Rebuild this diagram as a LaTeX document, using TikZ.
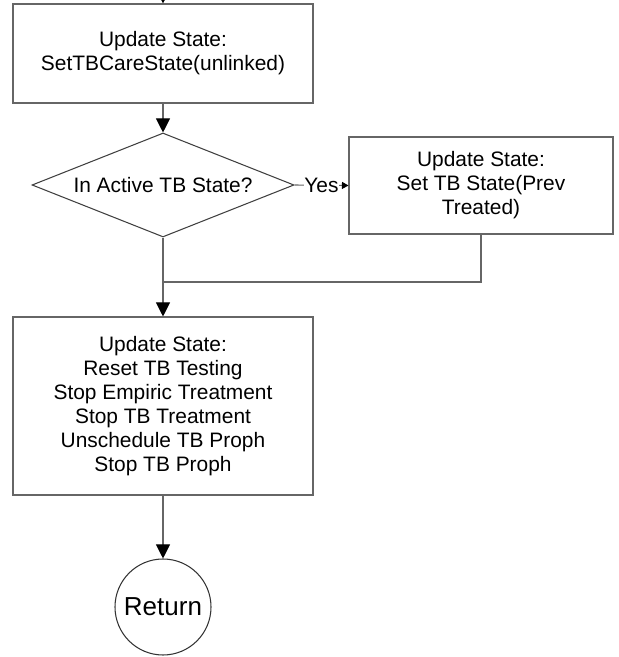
\documentclass[tikz,border=0pt]{standalone}
\usepackage{fontspec}
\setmainfont{Liberation Sans}
\usetikzlibrary{positioning,shapes.geometric,arrows.meta}

\tikzset{
  statebox/.style={draw=black!60, line width=0.6pt, align=center, inner sep=2pt},
  decision/.style={diamond, draw=black!75, line width=0.6pt, aspect=2.5, inner sep=0pt,
    minimum width=5.24cm, minimum height=2.08cm},
  endcircle/.style={circle, draw=black!80, line width=0.6pt, minimum size=1.92cm, inner sep=0pt,
    font=\fontsize{14.8}{17}\selectfont},
  flow/.style={draw=black!60, line width=0.6pt,
    -{Triangle[length=0.28cm, width=0.28cm, color=black, fill=black]}},
  smallflow/.style={draw=black!60, line width=0.6pt,
    -{Triangle[length=0.13cm, width=0.14cm, color=black, fill=black]}}
}

\begin{document}
\begin{tikzpicture}[font=\fontsize{11.9}{13.7}\selectfont]

        \useasboundingbox (0,0) rectangle (12.36,13.14);

        \coordinate (entry) at (3.26,13.8);
        \coordinate (join) at (3.26,7.5);

        \node[statebox, minimum width=6cm, minimum height=1.98cm] (upd1) at (3.26,12.07)
            {Update State:\\SetTBCareState(unlinked)};
        \node[decision] (active) at (3.26,9.44) {In Active TB State?};
        \node[statebox, minimum width=5.28cm, minimum height=1.94cm] (upd2) at (9.62,9.43)
            {Update State:\\Set TB State(Prev\\Treated)};
        \node[statebox, minimum width=6cm, minimum height=3.56cm] (upd3) at (3.26,5.02)
            {Update State:\\Reset TB Testing\\Stop Empiric Treatment\\Stop TB Treatment\\Unschedule TB Proph\\Stop TB Proph};
        \node[endcircle] (ret) at (3.26,1.0) {Return};

        \path[flow] (entry) -- (upd1.north);
        \path[flow] (upd1.south) -- (active.north);
        \path[smallflow] (active.east) -- (upd2.west)
            node[midway, fill=white, inner sep=0.5pt] (yes) {Yes};
        \path[draw=black!60, line width=0.6pt] (upd2.south) |- (join);
        \path[flow] (active.south) -- (upd3.north);
        \path[flow] (upd3.south) -- (ret.north);

    \end{tikzpicture}
\end{document}
